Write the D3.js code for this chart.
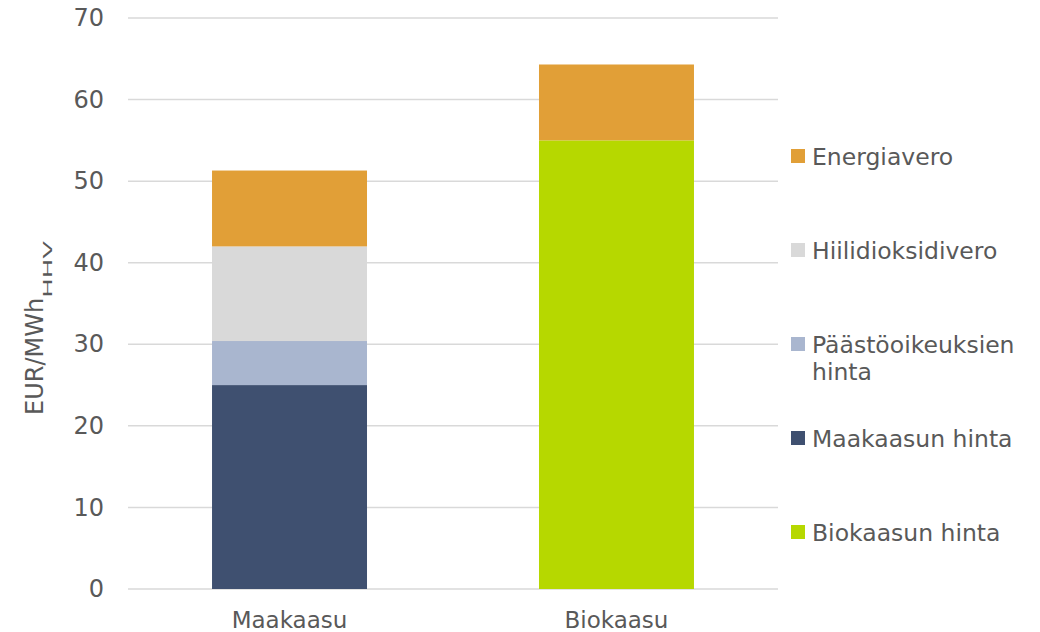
<!DOCTYPE html>
<html>
<head>
<meta charset="utf-8">
<script src="https://cdn.jsdelivr.net/npm/d3@7"></script>
<style>
  html, body { margin: 0; padding: 0; background: #fff; }
  svg text { font-family: "DejaVu Sans", Verdana, sans-serif; fill: #595959; }
</style>
</head>
<body>
<svg id="chart" width="1040" height="632"></svg>
<script>
const categories = ["Maakaasu", "Biokaasu"];
const seriesNames = ["Maakaasun hinta", "Päästöoikeuksien hinta", "Hiilidioksidivero", "Biokaasun hinta", "Energiavero"];
const maakaasunHinta = [25.0, 0];
const paastooikeuksienHinta = [5.4, 0];
const hiilidioksidivero = [11.6, 0];
const biokaasunHinta = [0, 55.0];
const energiavero = [9.3, 9.3];
const yTicks = [0, 10, 20, 30, 40, 50, 60, 70];
const colors = ["#3F5070", "#A9B6CF", "#D9D9D9", "#B6D800", "#E19F37"];
const legendOrder = ["Energiavero", "Hiilidioksidivero", "Päästöoikeuksien hinta", "Maakaasun hinta", "Biokaasun hinta"];
const legendLines = {
  "Päästöoikeuksien hinta": ["Päästöoikeuksien", "hinta"]
};

const seriesValues = [maakaasunHinta, paastooikeuksienHinta, hiilidioksidivero, biokaasunHinta, energiavero];
const rows = categories.map((c, i) => {
  const r = { category: c };
  seriesNames.forEach((s, j) => r[s] = seriesValues[j][i]);
  return r;
});

const FONT = '"DejaVu Sans", Verdana, sans-serif';
const svg = d3.select("#chart");
const plot = { left: 128, right: 778, top: 18, bottom: 589 };

const x = d3.scaleBand().domain(categories)
  .range([plot.left, plot.right])
  .paddingInner(0.526).paddingOuter(0.257);
const y = d3.scaleLinear().domain([0, 70]).range([plot.bottom, plot.top]);
const color = d3.scaleOrdinal().domain(seriesNames).range(colors);

// gridlines
svg.append("g").selectAll("line").data(yTicks).join("line")
  .attr("x1", plot.left).attr("x2", plot.right)
  .attr("y1", d => y(d)).attr("y2", d => y(d))
  .attr("stroke", "#d9d9d9").attr("stroke-width", 1.5);

// y axis labels
const yAxis = svg.append("g").attr("transform", `translate(${plot.left - 24},0)`)
  .call(d3.axisLeft(y).tickValues(yTicks).tickSize(0).tickPadding(0));
yAxis.select(".domain").remove();
yAxis.selectAll("text").style("font-size", "24px").attr("fill", "#595959")
  .style("font-family", FONT);

// bars
const stack = d3.stack().keys(seriesNames);
const stacked = stack(rows);
svg.append("g").selectAll("g").data(stacked).join("g")
  .attr("fill", d => color(d.key))
  .selectAll("rect").data(d => d.filter(p => p[1] - p[0] > 0)).join("rect")
  .attr("x", d => x(d.data.category))
  .attr("width", x.bandwidth())
  .attr("y", d => y(d[1]))
  .attr("height", d => y(d[0]) - y(d[1]));

// x axis labels
const xAxis = svg.append("g").attr("transform", `translate(0,${plot.bottom})`)
  .call(d3.axisBottom(x).tickSize(0).tickPadding(0));
xAxis.select(".domain").remove();
xAxis.selectAll("text").style("font-size", "23px").attr("fill", "#595959")
  .attr("y", 39).attr("dy", null)
  .style("font-family", FONT);

// y axis title
const titleMain = "EUR/MWh";
const titleSub = "HHV";
const yt = svg.append("text")
  .attr("transform", `translate(43,415) rotate(-90)`)
  .attr("text-anchor", "start")
  .style("font-size", "24px")
  .text(titleMain);
const mainLen = yt.node().getComputedTextLength();
const sub = svg.append("text")
  .style("font-size", "12px")
  .text(titleSub);
const subLen = sub.node().getComputedTextLength();
const subTarget = 57;
sub.attr("transform", `translate(52,${415 - mainLen}) rotate(-90) scale(${subTarget / subLen},1)`);

// legend
const legend = svg.append("g");
const lg = legend.selectAll("g").data(legendOrder).join("g")
  .attr("transform", (d, i) => `translate(791,${149 + i * 94})`);
lg.append("rect").attr("width", 14).attr("height", 14).attr("fill", d => color(d));
lg.each(function(d) {
  const lines = legendLines[d] || [d];
  const t = d3.select(this).append("text")
    .style("font-size", "23.5px");
  lines.forEach((l, i) => t.append("tspan").attr("x", 21).attr("y", 16 + i * 27).text(l));
});
</script>
</body>
</html>
